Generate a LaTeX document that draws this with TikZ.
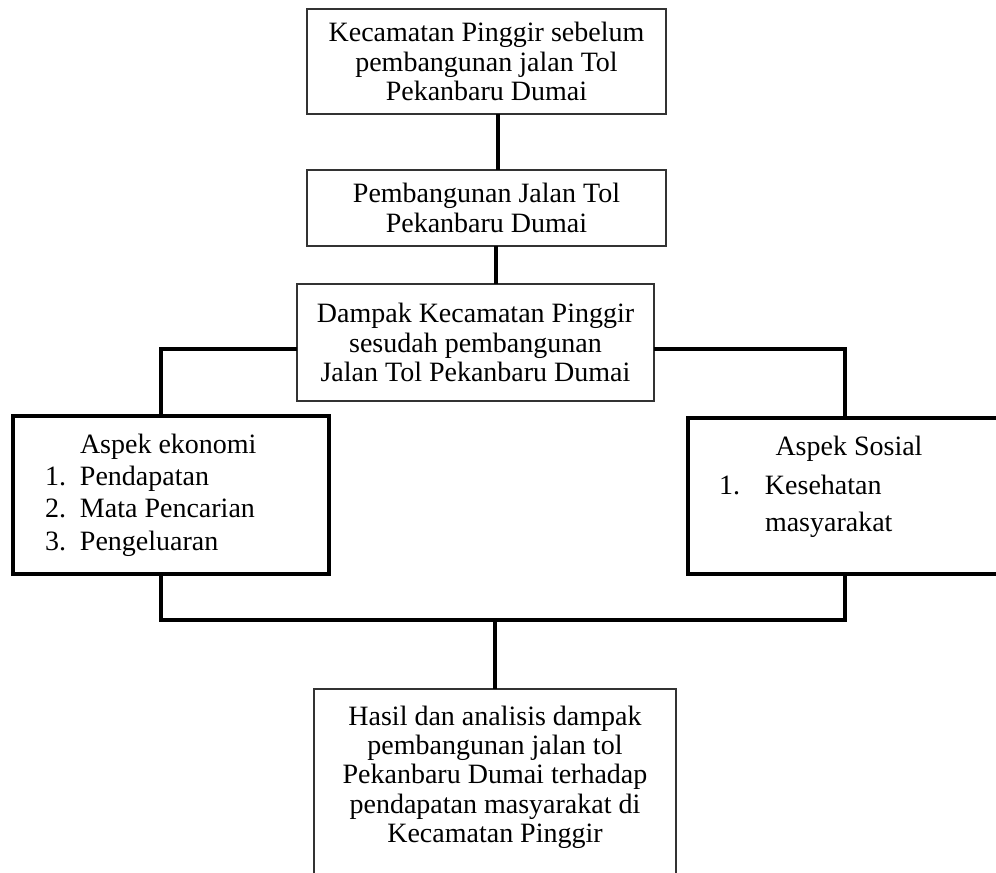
\documentclass[tikz,border=0pt]{standalone}
\usepackage{fontspec}
\setmainfont{Liberation Serif}
\begin{document}
\begin{tikzpicture}[x=0.75pt,y=-0.75pt,
  every node/.style={inner sep=0pt, outer sep=0pt, font=\fontsize{21}{22}\selectfont},
  tbox/.style={draw=black!80, line width=1.1pt, fill=white, align=center},
  kbox/.style={draw=black, line width=2.3pt, fill=white},
  conn/.style={line width=3pt, black}]
\useasboundingbox (0,0) rectangle (996,873);
\clip (0,0) rectangle (996,873);
% boxes
\node[tbox, minimum width=269.25pt, minimum height=78.75pt, text depth=-3pt] (b1) at (486.5,61.5)
  {Kecamatan Pinggir sebelum\\ pembangunan jalan Tol\\ Pekanbaru Dumai};
\node[tbox, minimum width=269.25pt, minimum height=57pt] (b2) at (486.5,208)
  {Pembangunan Jalan Tol\\ Pekanbaru Dumai};
\node[tbox, minimum width=267.75pt, minimum height=87.75pt] (b3) at (475.5,342.5)
  {Dampak Kecamatan Pinggir\\ sesudah pembangunan\\ Jalan Tol Pekanbaru Dumai};
\node[kbox, minimum width=237pt, minimum height=118.5pt] (lb) at (171,495) {};
\node[kbox, minimum width=241.5pt, minimum height=117pt] (rb) at (849,496) {};
\node[tbox, minimum width=271.5pt, minimum height=150.75pt] (bb) at (495,789.5) {};
% texts in boxes
\node[anchor=west, align=left, font=\fontsize{21}{24.3}\selectfont] (lt) at (45,495)
  {\hspace*{26.25pt}Aspek ekonomi\\
   \makebox[26.25pt][l]{1.}Pendapatan\\
   \makebox[26.25pt][l]{2.}Mata Pencarian\\
   \makebox[26.25pt][l]{3.}Pengeluaran};
\node (rh) at (849,449) {Aspek Sosial};
\node[anchor=west, align=left, font=\fontsize{21}{27.75}\selectfont] (rt) at (719,506)
  {\makebox[34.5pt][l]{1.}Kesehatan\\ \hspace*{34.5pt}masyarakat};
\node[align=center] (bt) at (495,777)
  {Hasil dan analisis dampak\\ pembangunan jalan tol\\ Pekanbaru Dumai terhadap\\
   pendapatan masyarakat di\\ Kecamatan Pinggir};
% connectors
\coordinate (j) at (495,620);
\draw[conn] ([xshift=8.6pt]b1.south) -- ([xshift=8.6pt]b1.south |- b2.north);
\draw[conn] ([xshift=7.1pt]b2.south) -- ([xshift=7.1pt]b2.south |- b3.north);
\draw[conn] ([yshift=-4.9pt]b3.west) -| ([xshift=-7.5pt]lb.north);
\draw[conn] ([yshift=-4.9pt]b3.east) -| ([xshift=-3pt]rb.north);
\draw[conn] ([xshift=-7.5pt]lb.south) |- (j) -| ([xshift=-3pt]rb.south);
\draw[conn] (j) -- (bb.north);
\end{tikzpicture}
\end{document}
